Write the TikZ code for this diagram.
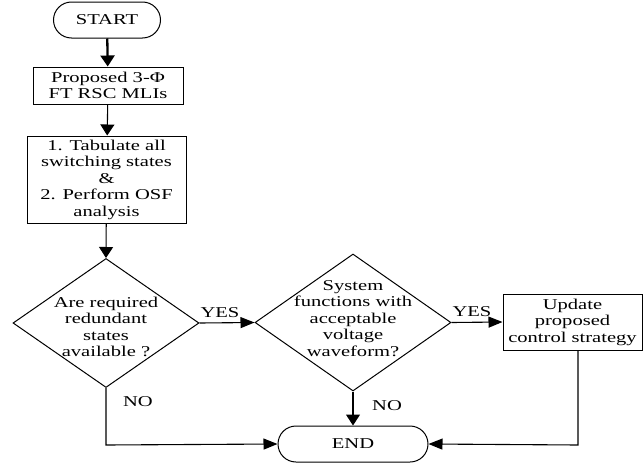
\documentclass[tikz,border=0pt]{standalone}
\usepackage{fontspec}
\setmainfont{Liberation Serif}[FakeStretch=1.37]
\usetikzlibrary{shapes.misc,shapes.geometric,arrows.meta}
\begin{document}
\begin{tikzpicture}[x=1pt,y=-1pt,
  every node/.style={font=\fontsize{15}{16.5}\selectfont, align=center, inner sep=0pt},
  term/.style={draw, rounded rectangle, line width=1pt},
  proc/.style={draw, rectangle, line width=1pt},
  dec/.style={draw, diamond, line width=1pt},
  conn/.style={line width=1.1pt},
  varr/.style={-{Triangle[length=11pt,width=14pt]}},
  harr/.style={-{Triangle[length=14pt,width=11pt]}},
  lbl/.style={font=\fontsize{15}{16.5}\selectfont}]
\useasboundingbox (0,0) rectangle (643,463);
\node[term, minimum width=107pt, minimum height=36pt] (start) at (107,20) {START};
\node[proc, minimum width=150pt, minimum height=37pt] (p1) at (108,85.5) {Proposed 3-Φ\\FT RSC MLIs};
\node[proc, minimum width=159pt, minimum height=87pt] (p2) at (106.5,179.5) {1. Tabulate all\\switching states\\\&\\2. Perform OSF\\analysis};
\node[dec, minimum width=186pt, minimum height=129pt] (d1) at (106,323) {};
\node (d1t) at (106,327) {Are required\\redundant\\states\\available ?};
\node[dec, minimum width=196pt, minimum height=137pt] (d2) at (353,322.5) {};
\node (d2t) at (353,318.5) {System\\functions with\\acceptable\\voltage\\waveform?};
\node[proc, minimum width=139pt, minimum height=56pt] (p3) at (572.5,322) {Update\\proposed\\control strategy};
\node[term, minimum width=150pt, minimum height=36pt] (end) at (353,444) {END};
\coordinate (c1) at (106,445);
\coordinate (c2) at (578,445);
\coordinate (p3b) at (578,350);
\draw[conn, line width=2.3pt, varr] (start) -- (p1);
\draw[conn, varr] (p1) -- (p2);
\draw[conn, varr] (p2) -- (d1.north);
\draw[conn, harr] (d1.east) -- (d2.west);
\node[lbl] (y1) at (220,313) {YES};
\draw[conn, harr] (d2.east) -- (p3.west);
\node[lbl] (y2) at (472,312) {YES};
\draw[conn, harr] (d1.south) -- (c1) -- (end.west);
\node[lbl] (n1) at (138,402) {NO};
\draw[conn, varr] (d2.south) -- (end.north);
\node[lbl] (n2) at (387,406) {NO};
\draw[conn, harr] (p3b) -- (c2) -- (end.east);
\end{tikzpicture}
\end{document}
